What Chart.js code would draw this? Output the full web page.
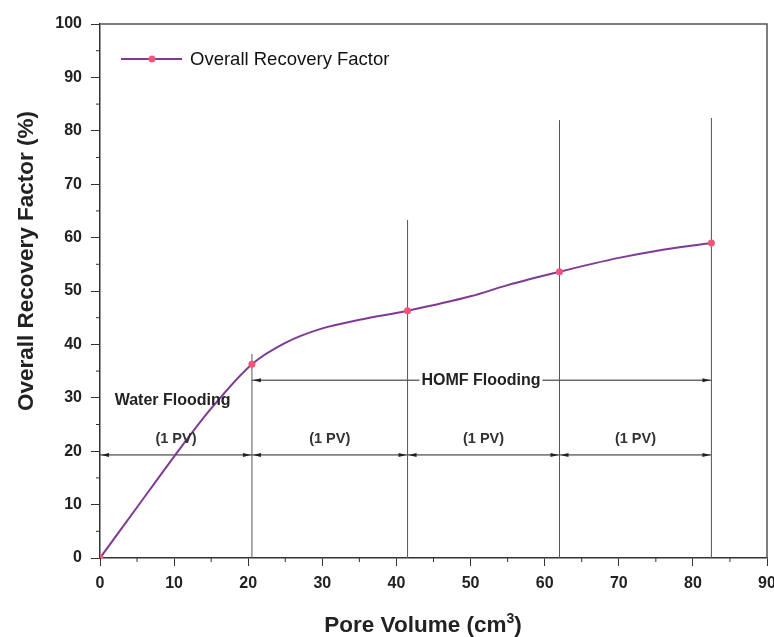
<!DOCTYPE html>
<html>
<head>
<meta charset="utf-8">
<script src="https://cdn.jsdelivr.net/npm/chart.js@4.4.7/dist/chart.umd.min.js"></script>
<style>
  html, body { margin: 0; padding: 0; background: #fff; }
  #wrap { width: 774px; height: 637px; position: relative; }
</style>
</head>
<body>
<div id="wrap"><canvas id="chart"></canvas></div>
<script>
// curve (pore volume cm3, recovery %)
const curveX = [0, 5, 10, 15, 20.5, 25, 30, 35, 41.5, 50, 55, 62, 70, 75, 82.5];
const curveY = [0, 9.5, 19, 28, 36.3, 40.3, 43, 44.6, 46.3, 49, 51.1, 53.6, 56.2, 57.5, 59];
// measured points (markers)
const markerX = [0, 20.5, 41.5, 62, 82.5];
const markerY = [0, 36.3, 46.3, 53.6, 59];
// stage boundaries and how tall each marker line is drawn
const boundaryX = [20.5, 41.5, 62, 82.5];
const boundaryTop = [38.2, 63.3, 82, 82.4];
const pvLineY = 19.3;
const homfY = 33.3;
const pvLabelY = 22.3;
const xTicks = [0, 10, 20, 30, 40, 50, 60, 70, 80, 90];
const yTicks = [0, 10, 20, 30, 40, 50, 60, 70, 80, 90, 100];

const LINE = '#7e3a94';
const MARK = '#f2557a';
const AX = '#333';
const FONT = '"Liberation Sans", Arial, sans-serif';

const datasets = [
  {
    label: 'Overall Recovery Factor',
    data: curveX.map((x, i) => ({ x, y: curveY[i] })),
    borderColor: LINE, borderWidth: 2, pointRadius: 0,
    showLine: true, cubicInterpolationMode: 'monotone', order: 1,
  },
  {
    label: 'markers',
    data: markerX.map((x, i) => ({ x, y: markerY[i] })),
    borderColor: MARK, backgroundColor: MARK, pointRadius: 3.5,
    pointBorderWidth: 0, showLine: false, order: 0,
  },
];
boundaryX.forEach((x, i) => {
  datasets.push({
    label: 'b' + i,
    data: [{ x, y: 0 }, { x, y: boundaryTop[i] }],
    borderColor: '#555', borderWidth: 1, pointRadius: 0, showLine: true, order: 2,
  });
});
datasets.push({
  label: 'pv',
  data: [{ x: 0, y: pvLineY }, { x: boundaryX[boundaryX.length - 1], y: pvLineY }],
  borderColor: '#222', borderWidth: 1, pointRadius: 0, showLine: true, order: 2,
});
datasets.push({
  label: 'homf',
  data: [{ x: boundaryX[0], y: homfY }, { x: boundaryX[boundaryX.length - 1], y: homfY }],
  borderColor: '#222', borderWidth: 1, pointRadius: 0, showLine: true, order: 2,
});

function arrow(ctx, x, y, dir) {
  ctx.beginPath();
  ctx.moveTo(x, y);
  ctx.lineTo(x - dir * 8, y - 2);
  ctx.lineTo(x - dir * 8, y + 2);
  ctx.closePath();
  ctx.fill();
}

const decor = {
  id: 'decor',
  afterDatasetsDraw(chart) {
    const { ctx, chartArea: a, scales: { x: sx, y: sy } } = chart;
    ctx.save();
    // frame top/right
    ctx.strokeStyle = '#555'; ctx.lineWidth = 1.5;
    ctx.beginPath();
    ctx.moveTo(a.left, a.top); ctx.lineTo(a.right, a.top); ctx.lineTo(a.right, a.bottom);
    ctx.stroke();
    // minor ticks
    ctx.strokeStyle = AX; ctx.lineWidth = 1;
    for (let v = 5; v < 90; v += 10) {
      const px = sx.getPixelForValue(v);
      ctx.beginPath(); ctx.moveTo(px, a.bottom); ctx.lineTo(px, a.bottom + 4); ctx.stroke();
    }
    for (let v = 5; v < 100; v += 10) {
      const py = sy.getPixelForValue(v);
      ctx.beginPath(); ctx.moveTo(a.left, py); ctx.lineTo(a.left - 4, py); ctx.stroke();
    }
    // arrowheads
    ctx.fillStyle = '#222';
    const bounds = [0].concat(boundaryX);
    const pyv = sy.getPixelForValue(pvLineY);
    for (let i = 0; i < bounds.length - 1; i++) {
      arrow(ctx, sx.getPixelForValue(bounds[i]) + 1, pyv, -1);
      arrow(ctx, sx.getPixelForValue(bounds[i + 1]) - 1, pyv, 1);
    }
    const pyh = sy.getPixelForValue(homfY);
    arrow(ctx, sx.getPixelForValue(boundaryX[0]) + 1, pyh, -1);
    arrow(ctx, sx.getPixelForValue(boundaryX[boundaryX.length - 1]) - 1, pyh, 1);

    // texts
    ctx.textAlign = 'center'; ctx.textBaseline = 'middle';
    ctx.font = 'bold 14.5px ' + FONT; ctx.fillStyle = '#333';
    for (let i = 0; i < bounds.length - 1; i++) {
      const cx = sx.getPixelForValue((bounds[i] + bounds[i + 1]) / 2);
      ctx.fillText('(1 PV)', cx, sy.getPixelForValue(pvLabelY));
    }
    ctx.fillStyle = '#222';
    ctx.font = 'bold 16px ' + FONT;
    ctx.fillText('Water Flooding', sx.getPixelForValue(9.8), sy.getPixelForValue(29.4));
    const hx = sx.getPixelForValue(51.4);
    const tw = ctx.measureText('HOMF Flooding').width;
    ctx.fillStyle = '#fff';
    ctx.fillRect(hx - tw / 2 - 2, pyh - 3, tw + 4, 6);
    ctx.fillStyle = '#222';
    ctx.fillText('HOMF Flooding', hx, pyh);

    // legend
    const ly = 59;
    ctx.strokeStyle = LINE; ctx.lineWidth = 2;
    ctx.beginPath(); ctx.moveTo(121, ly); ctx.lineTo(182, ly); ctx.stroke();
    ctx.fillStyle = MARK;
    ctx.beginPath(); ctx.arc(152, ly, 3.5, 0, Math.PI * 2); ctx.fill();
    ctx.fillStyle = '#111'; ctx.textAlign = 'left';
    ctx.font = '18.5px ' + FONT;
    ctx.fillText('Overall Recovery Factor', 190, ly + 1);

    // axis titles
    ctx.fillStyle = '#222';
    ctx.font = 'bold 22.5px ' + FONT;
    ctx.save();
    ctx.translate(27, 261);
    ctx.rotate(-Math.PI / 2);
    ctx.textAlign = 'center';
    ctx.fillText('Overall Recovery Factor (%)', 0, 0);
    ctx.restore();

    const main = 'Pore Volume (cm';
    const wMain = ctx.measureText(main).width;
    ctx.font = 'bold 14px ' + FONT;
    const wSup = ctx.measureText('3').width;
    ctx.font = 'bold 22.5px ' + FONT;
    const wEnd = ctx.measureText(')').width;
    let tx = 423 - (wMain + wSup + wEnd) / 2;
    ctx.textAlign = 'left';
    ctx.fillText(main, tx, 626);
    tx += wMain;
    ctx.font = 'bold 14px ' + FONT;
    ctx.fillText('3', tx, 619);
    tx += wSup;
    ctx.font = 'bold 22.5px ' + FONT;
    ctx.fillText(')', tx, 626);
    ctx.restore();
  },
};

new Chart(document.getElementById('chart'), {
  type: 'scatter',
  data: { datasets },
  plugins: [decor],
  options: {
    responsive: true, maintainAspectRatio: false, animation: false,
    layout: { padding: { top: 24, right: 7, left: 0, bottom: 0 } },
    plugins: { legend: { display: false }, tooltip: { enabled: false } },
    scales: {
      x: {
        type: 'linear', min: 0, max: 90,
        afterBuildTicks: (s) => { s.ticks = xTicks.map(v => ({ value: v })); },
        afterFit: (s) => { s.height = 79; s.paddingLeft = 0; s.paddingRight = 0; },
        border: { color: AX, width: 1.5 },
        grid: { drawOnChartArea: false, color: AX, tickLength: 8 },
        ticks: { color: '#222', font: { family: FONT, size: 16, weight: 'bold' }, padding: 8 },
      },
      y: {
        type: 'linear', min: 0, max: 100,
        afterBuildTicks: (s) => { s.ticks = yTicks.map(v => ({ value: v })); },
        afterFit: (s) => { s.width = 100; s.paddingTop = 0; s.paddingBottom = 0; },
        border: { color: AX, width: 1.5 },
        grid: { drawOnChartArea: false, color: AX, tickLength: 9 },
        ticks: { color: '#222', font: { family: FONT, size: 16, weight: 'bold' }, padding: 9 },
      },
    },
  },
});
</script>
</body>
</html>
